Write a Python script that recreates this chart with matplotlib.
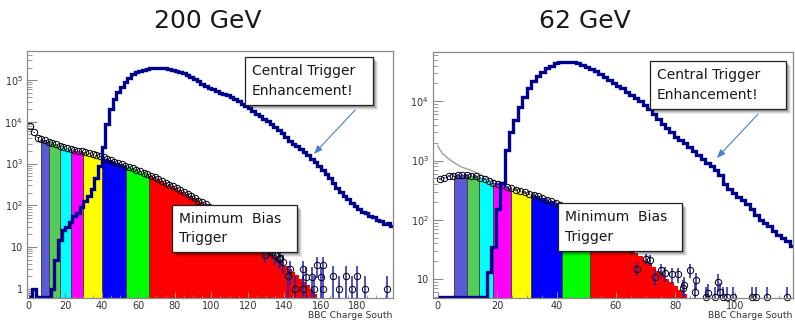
import numpy as np
import matplotlib
matplotlib.use("Agg")
import matplotlib.pyplot as plt
from matplotlib.patches import Rectangle

# ---------------- data ----------------
titles = ["200 GeV", "62 GeV"]
x_label = "BBC Charge South"
central_text = "Central Trigger\nEnhancement!"
minbias_text = "Minimum  Bias\nTrigger"

band_colors = ["#ffffff", "#5a5ad8", "#55cc55", "#00ffff", "#ff00ff",
               "#ffff00", "#0000ff", "#00ff00", "#ff0000"]

# 200 GeV panel (bins of width 2 from 0 to 200)
bin_width_200 = 2.0
central_200 = [0, 1, 0, 0, 0, 0, 1, 5, 15, 25,
               30, 40, 55, 65, 90, 125, 170, 250, 450, 900,
               2500, 9000, 20000, 35000, 52000, 70000, 88000, 115000, 138000, 155000,
               168000, 180000, 188000, 194000, 198000, 200000, 199000, 195000, 189000, 180000,
               170000, 158000, 146000, 133000, 118000, 105000, 93000, 83000, 74000, 66000,
               60000, 55000, 50000, 47000, 43000, 39000, 35500, 31600, 27500, 24000,
               21000, 18200, 15800, 13800, 12000, 10500, 8900, 7600, 6500, 5400,
               4400, 3500, 3000, 2600, 2200, 1860, 1600, 1300, 1070, 870,
               710, 560, 450, 340, 260, 210, 170, 138, 115, 98,
               83, 70, 66, 54, 52, 44, 43, 36, 38, 32]
minbias_200 = [8000, 5600, 4200, 3850, 3600, 3350, 3200, 2900, 2700, 2550,
               2350, 2200, 2140, 2000, 1950, 1860, 1750, 1660, 1580, 1500,
               1400, 1300, 1200, 1120, 1040, 970, 900, 830, 770, 710,
               660, 610, 560, 510, 470, 430, 390, 350, 315, 285,
               260, 235, 210, 185, 165, 150, 130, 118, 105, 92,
               80, 70, 62, 55, 48, 42, 36, 31, 27, 23,
               19.5, 16.5, 14.5, 12.3, 10.5, 8.9, 7.6, 6.3, 5.2, 4.3,
               3.6, 3.0, 2.5, 2.1, 1.7, 1.45, 1.2, 1.0, 0.75, 0.6,
               0, 0, 0, 0, 0, 0, 0, 0, 0, 0,
               0, 0, 0, 0, 0, 0, 0, 0, 0, 0]
points_end_200 = 140
tail_x_200 = [129.5, 137.5, 142, 143, 146, 150, 150, 152, 155, 156.5, 158,
              160, 161, 161, 166.5, 170, 174, 177, 180, 184, 196]
tail_y_200 = [6.6, 5.6, 2, 2.9, 1, 2.9, 1, 1.9, 1.9, 1, 3.8,
              1.9, 3.8, 1, 2, 1, 2, 1, 2, 1, 1]
band_edges_200 = [0, 6.5, 11, 17, 23, 30, 40, 53.5, 66, 200]
xticks_200 = [0, 20, 40, 60, 80, 100, 120, 140, 160, 180]
yticks_200 = [1, 10, 1e2, 1e3, 1e4, 1e5]
ylabels_200 = ["1", "10", "$10^2$", "$10^3$", "$10^4$", "$10^5$"]

# 62 GeV panel (bins of width 1.5 from 0 to 120)
bin_width_62 = 1.5
central_62 = [0, 0, 0, 0, 0, 0, 0, 0, 0, 0,
              0, 13, 35, 150, 420, 1500, 3000, 4800, 8000, 12000,
              16500, 22000, 27000, 31500, 36000, 40000, 43500, 46000, 47000, 47000,
              46000, 44000, 41500, 38500, 35500, 32000, 29000, 26000, 23000, 20500,
              18500, 16500, 14600, 12800, 11300, 10000, 8700, 7300, 6100, 5000,
              4200, 3500, 3000, 2550, 2200, 1950, 1700, 1450, 1250, 1080,
              920, 800, 690, 580, 400, 330, 280, 245, 215, 185,
              155, 120, 100, 90, 78, 66, 55, 49, 44, 36]
minbias_62 = [490, 510, 550, 560, 575, 575, 575, 560, 540, 515,
              490, 455, 425, 405, 380, 355, 340, 325, 310, 295,
              275, 263, 250, 235, 220, 205, 195, 180, 166, 155,
              145, 132, 120, 107, 95, 85, 76, 69, 62, 55,
              49, 43, 37, 32, 28, 24.5, 21.4, 18.6, 15.8, 13.8,
              12, 10.2, 9.1, 7.8, 6.6, 5.5, 4.6, 0, 0, 0,
              0, 0, 0, 0, 0, 0, 0, 0, 0, 0,
              0, 0, 0, 0, 0, 0, 0, 0, 0, 0]
points_end_62 = 66
tail_x_62 = [67, 70, 71.5, 73, 75.3, 76.5, 78.7, 80.8, 82.5, 83, 84.8, 86.7, 87,
             91, 94.4, 95, 90.2, 93.3, 96, 97.3, 99.3, 105.7, 107, 111, 117.5]
tail_y_62 = [15, 22, 21, 11, 14, 12.5, 12, 12, 7, 8, 14, 6, 9.6,
             5.8, 9, 6, 5, 5, 5, 5, 5, 5, 5, 5, 5]
fit_x_62 = [0, 0.5, 1, 1.5, 2.4, 3.5, 5.7, 8, 11.4, 15, 20]
fit_y_62 = [1800, 1600, 1450, 1330, 1230, 1080, 910, 780, 680, 560, 440]
band_edges_62 = [0, 5.5, 9.7, 13.8, 18.6, 24.6, 31.5, 41.7, 51.4, 120]
xticks_62 = [0, 20, 40, 60, 80, 100]
yticks_62 = [10, 1e2, 1e3, 1e4]
ylabels_62 = ["10", "$10^2$", "$10^3$", "$10^4$"]

# ---------------- style ----------------
W, H = 795, 321
CENTRAL = "#00008f"
ERR = "#2222b8"
FRAME = "#8a8a8a"
TXT = "#333333"
plt.rcParams["mathtext.default"] = "regular"
plt.rcParams["font.family"] = ["DejaVu Sans"]

fig = plt.figure(figsize=(W / 100, H / 100), dpi=100)


def px_axes(x0, y0, x1, y1):
    return fig.add_axes([x0 / W, 1 - y1 / H, (x1 - x0) / W, (y1 - y0) / H])


def draw_panel(ax, bw, central, minbias, pend, tx, ty, band_edges, xlim, ylim,
               xticks, yticks, ylabels, fit=None):
    central = np.asarray(central, float)
    minbias = np.asarray(minbias, float)
    edges = np.arange(len(central) + 1) * bw
    centers = edges[:-1] + bw / 2
    ymin = ylim[0]
    ax.set_yscale("log")
    # centrality bands under the minimum-bias spectrum
    mb_plot = np.where(minbias > 0, minbias, ymin * 0.5)
    for (a, b), col in zip(zip(band_edges[:-1], band_edges[1:]), band_colors):
        st = ax.stairs(mb_plot, edges, baseline=ymin * 0.5, fill=True,
                       color=col, zorder=1, linewidth=0)
        clip = Rectangle((max(a, xlim[0]), ymin), min(b, xlim[1]) - max(a, xlim[0]),
                         ylim[1] - ymin, transform=ax.transData)
        st.set_clip_path(clip)
    for b in band_edges[1:-1]:
        i = min(int(b // bw), len(minbias) - 1)
        ax.plot([b, b], [ymin * 0.5, minbias[i]], color="#444444", lw=0.7, zorder=1.5)
    if fit is not None:
        ax.plot(fit[0], fit[1], color="#a0a0a0", lw=1.0, zorder=1.6)
    # min bias points
    sel = (centers < pend) & (minbias > 0)
    px = np.concatenate([centers[sel], np.asarray(tx, float)])
    py = np.concatenate([minbias[sel], np.asarray(ty, float)])
    err = np.sqrt(py)
    lo = py - np.maximum(py - err, ymin * 0.3)
    ax.errorbar(px, py, yerr=[lo, err], fmt="none", ecolor=ERR, elinewidth=1.1, zorder=2)
    ax.plot(px, py, "o", mfc="none", mec="black", ms=4.6, mew=0.7, zorder=2.5, clip_on=False)
    # central trigger histogram
    cplot = np.where(central > 0, central, ymin * 1.04)
    ax.stairs(cplot, edges, color=CENTRAL, lw=2.4, zorder=3, baseline=None)

    ax.set_xlim(*xlim)
    ax.set_ylim(*ylim)
    ax.set_xticks(xticks)
    ax.set_xticklabels([str(t) for t in xticks])
    ax.set_yticks(yticks)
    ax.set_yticklabels(ylabels)
    ax.set_xticks(np.arange(0, xlim[1], 5), minor=True)
    ax.tick_params(axis="both", which="both", direction="in", colors=FRAME,
                   labelcolor=TXT, labelsize=7, top=False, right=False)
    ax.tick_params(axis="y", which="major", length=7, width=0.8, pad=3)
    ax.tick_params(axis="y", which="minor", length=3.5, width=0.6)
    ax.tick_params(axis="x", which="major", length=4, width=0.8, pad=2)
    ax.tick_params(axis="x", which="minor", length=2, width=0.6)
    for s in ax.spines.values():
        s.set_color(FRAME)
        s.set_linewidth(0.9)
        s.set_zorder(5)
    ax.set_facecolor("white")


ax1 = px_axes(27, 51, 393, 298)
draw_panel(ax1, bin_width_200, central_200, minbias_200, points_end_200,
           tail_x_200, tail_y_200, band_edges_200, (-0.9, 199.5), (0.6, 5e5),
           xticks_200, yticks_200, ylabels_200)
ax2 = px_axes(433, 52, 793, 298)
draw_panel(ax2, bin_width_62, central_62, minbias_62, points_end_62,
           tail_x_62, tail_y_62, band_edges_62, (-1.6, 119.6), (4.8, 6.8e4),
           xticks_62, yticks_62, ylabels_62, fit=(fit_x_62, fit_y_62))

# ---------------- overlay (pixel coordinates) ----------------
ov = fig.add_axes([0, 0, 1, 1], zorder=10)
ov.set_xlim(0, W)
ov.set_ylim(H, 0)
ov.axis("off")
ov.patch.set_alpha(0)

ov.text(208, 21, titles[0], fontsize=18, ha="center", va="center", color="#1a1a1a")
ov.text(585, 21, titles[1], fontsize=18, ha="center", va="center", color="#1a1a1a")
ov.text(392, 316, x_label, fontsize=6.6, ha="right", va="center", color=TXT)
ov.text(792, 316, x_label, fontsize=6.6, ha="right", va="center", color=TXT)


def note(x0, y0, x1, y1, text):
    for k, a in [(5, 0.07), (4, 0.1), (3, 0.14), (2, 0.18)]:
        ov.add_patch(Rectangle((x0 + k, y0 + k), x1 - x0, y1 - y0,
                               facecolor="black", edgecolor="none", alpha=a))
    ov.add_patch(Rectangle((x0, y0), x1 - x0, y1 - y0, facecolor="white",
                           edgecolor="#222222", lw=0.9))
    ov.text(x0 + 7, (y0 + y1) / 2, text, fontsize=10, ha="left", va="center",
            color="#1a1a1a", linespacing=1.5)


note(245, 57, 373, 105, central_text)
note(650, 61, 786, 109, central_text)
note(172, 205, 297, 252, minbias_text)
note(558, 203, 682, 251, minbias_text)

arrow_kw = dict(arrowstyle="-|>,head_length=0.5,head_width=0.2", color="#4a7fd4", lw=0.8)
ov.annotate("", xy=(312, 156), xytext=(357, 108), arrowprops=arrow_kw)
ov.annotate("", xy=(715, 160), xytext=(760, 112), arrowprops=arrow_kw)

fig.savefig("out.png", dpi=100)
